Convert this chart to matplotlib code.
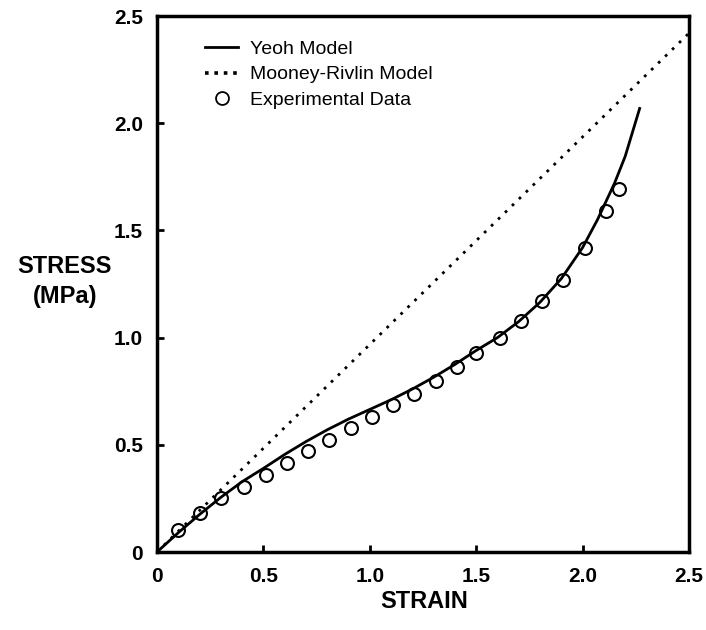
import matplotlib
matplotlib.use("Agg")
import matplotlib.pyplot as plt
from matplotlib.lines import Line2D

# ---- data ----
yeoh_strain = [0.0, 0.1, 0.2, 0.3, 0.4, 0.5, 0.6, 0.7, 0.8, 0.9, 1.0, 1.1, 1.2,
               1.3, 1.4, 1.5, 1.6, 1.7, 1.8, 1.9, 2.0, 2.07, 2.15, 2.2, 2.27]
yeoh_stress = [0.0, 0.09, 0.175, 0.255, 0.328, 0.39, 0.455, 0.515, 0.57, 0.62,
               0.665, 0.71, 0.76, 0.815, 0.875, 0.94, 1.0, 1.075, 1.165, 1.275,
               1.42, 1.55, 1.72, 1.845, 2.075]

mr_strain = [0.0, 2.5]
mr_stress = [0.0, 2.42]

exp_strain = [0.10, 0.20, 0.30, 0.41, 0.51, 0.61, 0.71, 0.81, 0.91, 1.01, 1.11,
              1.21, 1.31, 1.41, 1.50, 1.61, 1.71, 1.81, 1.91, 2.01, 2.11, 2.17]
exp_stress = [0.103, 0.18, 0.25, 0.305, 0.36, 0.417, 0.472, 0.522, 0.577, 0.631,
              0.686, 0.737, 0.798, 0.861, 0.93, 0.997, 1.076, 1.17, 1.269, 1.417,
              1.59, 1.692]

tick_vals = [0, 0.5, 1.0, 1.5, 2.0, 2.5]
tick_labels = ["0", "0.5", "1.0", "1.5", "2.0", "2.5"]

legend_labels = ["Yeoh Model", "Mooney-Rivlin Model", "Experimental Data"]

# ---- figure ----
W, H = 706, 630
fig = plt.figure(figsize=(W / 100, H / 100), dpi=100)
ax = fig.add_axes([157 / W, (H - 552) / H, (689 - 157) / W, (552 - 16) / H])

ax.plot(yeoh_strain, yeoh_stress, color="black", lw=2.0, solid_capstyle="butt")
ax.plot(mr_strain, mr_stress, color="black", lw=2.0, linestyle=(0, (1, 2.5)))
ax.plot(exp_strain, exp_stress, linestyle="none", marker="o", ms=9.3,
        mfc="none", mec="black", mew=1.5)

ax.set_xlim(0, 2.5)
ax.set_ylim(0, 2.5)
for s in ax.spines.values():
    s.set_linewidth(2.5)

tick_font = dict(family=["Liberation Sans", "DejaVu Sans"], weight="bold", size=15)
ax.set_xticks(tick_vals)
ax.set_yticks(tick_vals)
ax.set_xticklabels(tick_labels, fontdict=tick_font)
ax.set_yticklabels(tick_labels, fontdict=tick_font)
ax.tick_params(axis="both", direction="in", length=5, width=2, color="black")
ax.tick_params(axis="x", pad=11)
ax.tick_params(axis="y", pad=10)

lab_font = dict(family=["Liberation Sans", "DejaVu Sans"], weight="bold", size=17)
fig.text(64 / W, 1 - 266 / H, "STRESS", ha="center", va="center", **lab_font)
fig.text(65 / W, 1 - 296 / H, "(MPa)", ha="center", va="center", **lab_font)
fig.text(424 / W, 1 - 602 / H, "STRAIN", ha="center", va="center", **lab_font)

handles = [
    Line2D([], [], color="black", lw=2.0),
    Line2D([], [], color="black", lw=2.6, linestyle=(0, (1, 1.6))),
    Line2D([], [], linestyle="none", marker="o", ms=9.3, mfc="none", mec="black", mew=1.3),
]
leg = fig.legend(handles, legend_labels, loc="upper left",
                 bbox_to_anchor=(205 / W, 1 - 40 / H), frameon=False,
                 borderpad=0, borderaxespad=0, handlelength=1.7,
                 handletextpad=0.62, labelspacing=0.42,
                 prop=dict(family=["Liberation Sans", "DejaVu Sans"], size=14))

fig.savefig("out.png", dpi=100)
